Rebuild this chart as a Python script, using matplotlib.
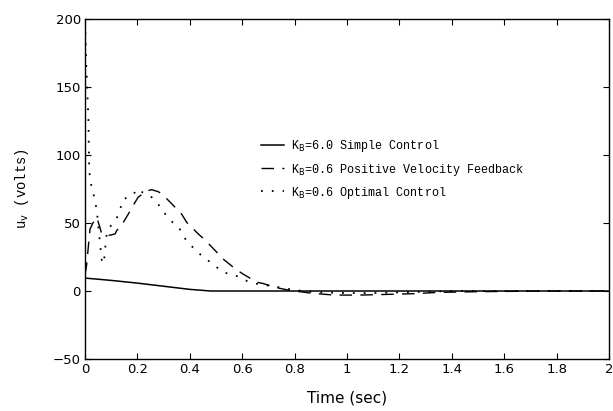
import matplotlib
matplotlib.use("Agg")
import matplotlib.pyplot as plt

# control voltage response u_v(t) for three controller settings
t_simple = [0, 0.1, 0.2, 0.3, 0.4, 0.48, 0.6, 2.0]
u_simple = [9.5, 7.8, 5.8, 3.5, 1.2, 0, 0, 0]

t_pvf = [0, 0.006, 0.019, 0.03, 0.045, 0.054, 0.064, 0.076, 0.095, 0.115,
         0.121, 0.14, 0.165, 0.184, 0.203, 0.235, 0.254, 0.28, 0.298, 0.324,
         0.369, 0.388, 0.432, 0.458, 0.508, 0.527, 0.579, 0.603, 0.655, 0.68,
         0.73, 0.78, 0.86, 0.95, 1.05, 1.15, 1.25, 1.35, 1.5, 1.75, 2.0]
u_pvf = [12, 19, 45.5, 50, 54, 48.5, 42, 41.5, 41, 42,
         44.5, 48.5, 56.5, 63, 69, 73.5, 74.5, 73, 70.5, 65.5,
         56.5, 50.5, 42, 37.5, 27.5, 23.5, 15.5, 12.5, 6.5, 5.5,
         2.5, 0.5, -1.5, -3, -3, -2.5, -2, -1, -0.5, 0, 0]

t_opt = [0, 0.005, 0.013, 0.016, 0.026, 0.038, 0.047, 0.057, 0.064, 0.07,
         0.076, 0.08, 0.095, 0.121, 0.14, 0.146, 0.184, 0.197, 0.22, 0.248,
         0.26, 0.29, 0.31, 0.324, 0.35, 0.369, 0.385, 0.407, 0.43, 0.458,
         0.48, 0.506, 0.53, 0.556, 0.579, 0.607, 0.626, 0.649, 0.7, 0.75,
         0.776, 0.83, 0.9, 1.0, 1.1, 1.2, 1.4, 1.6, 1.8, 2.0]
u_opt = [198, 165, 126, 88, 75, 67.5, 55.5, 35.5, 22.5, 20,
         27.5, 39.5, 47, 53.5, 63.5, 67.5, 70.5, 75, 72.5, 70.5,
         67.5, 61.5, 55.5, 52, 48.5, 43.5, 37.5, 33, 28.5, 24,
         21, 17, 13.5, 12.5, 11, 8.5, 6.5, 5.5, 4, 2.5,
         1.5, 0, -1, -1.5, -1.5, -1, 0, 0, 0, 0]

labels = [r"K$_{\rm B}$=6.0 Simple Control",
          r"K$_{\rm B}$=0.6 Positive Velocity Feedback",
          r"K$_{\rm B}$=0.6 Optimal Control"]

x_ticks = [0, 0.2, 0.4, 0.6, 0.8, 1, 1.2, 1.4, 1.6, 1.8, 2]
x_ticklabels = ["0", "0.2", "0.4", "0.6", "0.8", "1", "1.2", "1.4", "1.6", "1.8", "2"]
y_ticks = [-50, 0, 50, 100, 150, 200]

mono = "Liberation Mono"

fig = plt.figure(figsize=(6.13, 4.11), dpi=100)
ax = fig.add_axes([0.1387, 0.1265, 0.8548, 0.8273])

ax.plot(t_simple, u_simple, color="black", lw=1.1, label=labels[0])
ax.plot(t_pvf, u_pvf, color="black", lw=1.0, linestyle=(0, (9, 6)), label=labels[1])
ax.plot(t_opt, u_opt, color="black", lw=1.3, linestyle=(0, (1, 5)), label=labels[2])

ax.set_xlim(0, 2)
ax.set_ylim(-50, 200)
ax.set_xticks(x_ticks)
ax.set_xticklabels(x_ticklabels)
ax.set_yticks(y_ticks)
ax.tick_params(direction="in", top=True, right=True, length=4, width=0.8,
               labelsize=9.5, pad=3)
for s in ax.spines.values():
    s.set_linewidth(1.0)

ax.set_xlabel("Time (sec)", fontsize=11, labelpad=10)
ax.set_ylabel(r"u$_{\rm v}$ (volts)", fontsize=10, family=mono, labelpad=16)

leg = ax.legend(loc="upper left", bbox_to_anchor=(0.315, 0.68), frameon=False,
                prop={"family": mono, "size": 8.5}, handlelength=2.0,
                handletextpad=0.6, labelspacing=0.6)

fig.savefig("out.png", dpi=100)
